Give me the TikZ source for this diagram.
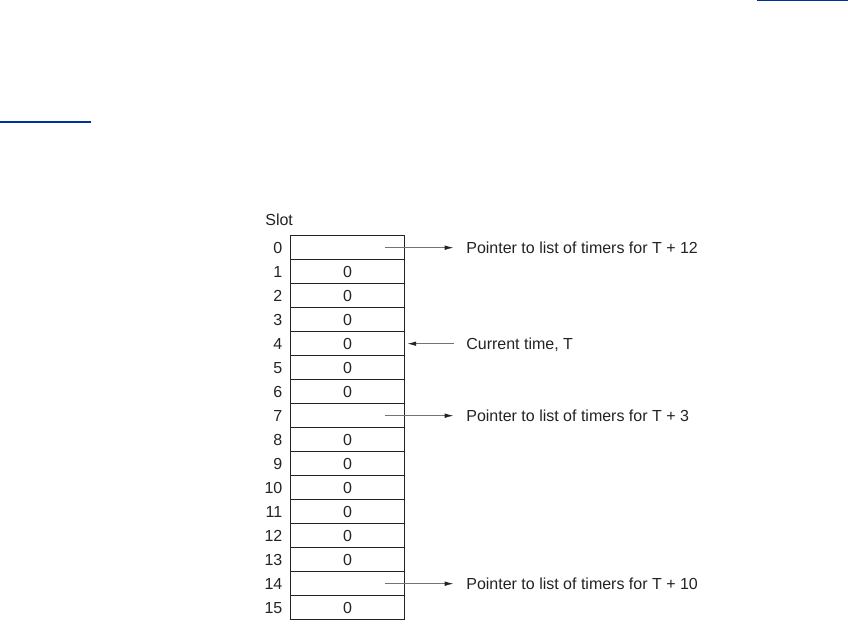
\documentclass[tikz,border=0pt]{standalone}
\usepackage{fontspec}
\setmainfont{Liberation Sans}
\usetikzlibrary{positioning,arrows.meta}
\definecolor{linkblue}{RGB}{0,51,153}
\definecolor{inkgray}{RGB}{35,35,35}

\tikzset{
  cell/.style={draw=inkgray, line width=0.6pt, minimum width=2.272cm, minimum height=0.48cm,
    inner sep=0pt, text height=0.716em, text depth=0pt},
  slotnum/.style={inner sep=0pt, text height=0.716em, text depth=0pt},
  ptrtext/.style={inner xsep=0.25cm, inner ysep=0pt, text height=0.716em, text depth=0pt},
  ptr/.style={draw=black!55, line width=0.5pt, -{Latex[length=5pt,width=2.6pt,color=inkgray]}},
}

\begin{document}
\begin{tikzpicture}[font=\fontsize{9.1}{11}\selectfont, text=inkgray]
\useasboundingbox (0,0) rectangle (16.96,-12.56);

% link underlines of the page
\fill[linkblue] (15.14,0) rectangle (16.96,-0.03);
\fill[linkblue] (0,-2.42) rectangle (1.82,-2.455);

% Timer wheel: slots 0..15
\node[anchor=base west, inner sep=0pt] (slot) at (5.3,-4.514) {Slot};
\foreach \i/\v in {0/{},1/0,2/0,3/0,4/0,5/0,6/0,7/{},8/0,9/0,10/0,11/0,12/0,13/0,14/{},15/0} {
  \node[cell] (s\i) at (6.95,{-4.954-0.48*\i}) {\v};
  \node[slotnum, left=0.15cm of s\i] (n\i) {\i};
}

% Pointers and current time
\node[ptrtext, right=0.974cm of s0] (p0) {Pointer to list of timers for T + 12};
\node[ptrtext, right=0.974cm of s4] (cur) {Current time, T};
\node[ptrtext, right=0.974cm of s7] (p7) {Pointer to list of timers for T + 3};
\node[ptrtext, right=0.974cm of s14] (p14) {Pointer to list of timers for T + 10};

\draw[ptr] ([xshift=-0.4cm]s0.east) -- (p0);
\draw[ptr] (cur) -- ([xshift=0.05cm]s4.east);
\draw[ptr] ([xshift=-0.4cm]s7.east) -- (p7);
\draw[ptr] ([xshift=-0.4cm]s14.east) -- (p14);
\end{tikzpicture}
\end{document}
